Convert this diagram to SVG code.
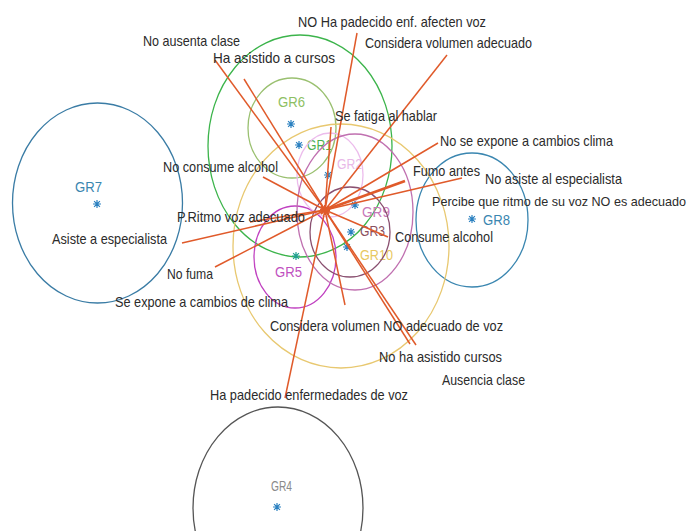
<svg xmlns="http://www.w3.org/2000/svg" xmlns:xlink="http://www.w3.org/1999/xlink" width="691" height="531" viewBox="0 0 691 531">
<style>
.lbl{font-family:"Liberation Sans",Arial,sans-serif;font-size:14.5px;fill:#2b2b2b;}
.gl{font-family:"Liberation Sans",Arial,sans-serif;font-size:14.5px;}
.ell{fill:none;stroke-width:1.3;}
.ln{stroke:#e05a2a;stroke-width:1.5;fill:none;}
.st{stroke:#2a80c0;stroke-width:1.2;fill:none;}
</style>
<defs>
<g id="star"><path d="M-4,0H4M0,-4V4M-2.9,-2.9L2.9,2.9M-2.9,2.9L2.9,-2.9"/></g>
</defs>
<rect width="691" height="531" fill="#ffffff"/>

<g id="GR7"><ellipse class="ell" cx="97.5" cy="203" rx="85" ry="100" stroke="#3a7ca5"/><use xlink:href="#star" class="st" x="97" y="204"/><text class="gl" x="75" y="192" fill="#3a86b0" textLength="27" lengthAdjust="spacingAndGlyphs">GR7</text></g>
<g id="GR8"><ellipse class="ell" cx="472" cy="220" rx="56" ry="67" stroke="#3a86b0"/><use xlink:href="#star" class="st" x="472" y="219"/><text class="gl" x="483" y="225" fill="#3a86b0" textLength="27" lengthAdjust="spacingAndGlyphs">GR8</text></g>
<g id="GR4"><ellipse class="ell" cx="278" cy="508" rx="85" ry="101" stroke="#555555"/><use xlink:href="#star" class="st" x="277" y="507"/><text class="gl" x="271" y="491" fill="#8a8a8a" textLength="21" lengthAdjust="spacingAndGlyphs">GR4</text></g>
<g id="GR1"><ellipse class="ell" cx="300" cy="146" rx="92" ry="111" stroke="#3cb44b"/><use xlink:href="#star" class="st" x="299" y="145"/><text class="gl" x="307" y="150" fill="#4cb050" textLength="25" lengthAdjust="spacingAndGlyphs">GR1</text></g>
<g id="GR6"><ellipse class="ell" cx="292" cy="128" rx="44" ry="50" stroke="#9ac070"/><use xlink:href="#star" class="st" x="291" y="124"/><text class="gl" x="278" y="107" fill="#8dc063" textLength="27" lengthAdjust="spacingAndGlyphs">GR6</text></g>
<g id="GR10"><ellipse class="ell" cx="341" cy="246" rx="108" ry="122" stroke="#e8c870"/><use xlink:href="#star" class="st" x="347" y="247"/><text class="gl" x="360" y="260" fill="#e8c860" textLength="33" lengthAdjust="spacingAndGlyphs">GR10</text></g>
<g id="GR5"><ellipse class="ell" cx="295" cy="257" rx="41" ry="51" stroke="#c040c0"/><use xlink:href="#star" class="st" x="296" y="256" style="stroke:#20a090"/><text class="gl" x="275" y="277" fill="#c050c0" textLength="27" lengthAdjust="spacingAndGlyphs">GR5</text></g>
<g id="GR2"><ellipse class="ell" cx="330" cy="175" rx="33" ry="42" stroke="#ecbcec"/><use xlink:href="#star" class="st" x="328" y="175"/><text class="gl" x="337" y="169" fill="#e8b8e8" textLength="25" lengthAdjust="spacingAndGlyphs">GR2</text></g>
<g id="GR9"><ellipse class="ell" cx="355" cy="212" rx="58" ry="78" stroke="#c070b0"/><use xlink:href="#star" class="st" x="355" y="205"/><text class="gl" x="362" y="217" fill="#c878b8" textLength="28" lengthAdjust="spacingAndGlyphs">GR9</text></g>
<g id="GR3"><ellipse class="ell" cx="350" cy="232" rx="40" ry="45" stroke="#8a5070"/><use xlink:href="#star" class="st" x="351" y="232"/><text class="gl" x="360" y="236" fill="#8a5060" textLength="25" lengthAdjust="spacingAndGlyphs">GR3</text></g>

<g id="connectors">
<path class="ln" d="M325,210L215,60"/>
<path class="ln" d="M325,210L244,79"/>
<path class="ln" d="M325,210L357,33"/>
<path class="ln" d="M325,210L447,55"/>
<path class="ln" d="M325,210L331,127"/>
<path class="ln" d="M325,210L438,143"/>
<path class="ln" d="M325,210L405,181" style="stroke-width:2.6"/>
<path class="ln" d="M325,210L462,178"/>
<path class="ln" d="M325,210L388,237"/>
<path class="ln" d="M325,210L263,177"/>
<path class="ln" d="M325,210L250,222"/>
<path class="ln" d="M325,210L182,243"/>
<path class="ln" d="M325,210L215,267"/>
<path class="ln" d="M325,210L285,398"/>
<path class="ln" d="M325,210L345,305"/>
<path class="ln" d="M325,210L410,344"/>
<path class="ln" d="M325,210L416,345"/>
<path d="M320,210H330M325,205V215M321,206L329,214M321,214L329,206" stroke="#e05a2a" stroke-width="2"/>
</g>

<g id="labels">
<text class="lbl" x="298" y="27" textLength="188" lengthAdjust="spacingAndGlyphs">NO Ha padecido enf. afecten voz</text>
<text class="lbl" x="143" y="46" textLength="97" lengthAdjust="spacingAndGlyphs">No ausenta clase</text>
<text class="lbl" x="365" y="48" textLength="167" lengthAdjust="spacingAndGlyphs">Considera volumen adecuado</text>
<text class="lbl" x="213" y="63" textLength="122" lengthAdjust="spacingAndGlyphs">Ha asistido a cursos</text>
<text class="lbl" x="335" y="121" textLength="102" lengthAdjust="spacingAndGlyphs">Se fatiga al hablar</text>
<text class="lbl" x="440" y="146" textLength="173" lengthAdjust="spacingAndGlyphs">No se expone a cambios clima</text>
<text class="lbl" x="413" y="176" textLength="67" lengthAdjust="spacingAndGlyphs">Fumo antes</text>
<text class="lbl" x="485" y="184" textLength="137" lengthAdjust="spacingAndGlyphs">No asiste al especialista</text>
<text class="lbl" x="432" y="206" style="font-size:12.8px" textLength="254" lengthAdjust="spacingAndGlyphs">Percibe que ritmo de su voz NO es adecuado</text>
<text class="lbl" x="395" y="242" textLength="98" lengthAdjust="spacingAndGlyphs">Consume alcohol</text>
<text class="lbl" x="163" y="172" textLength="115" lengthAdjust="spacingAndGlyphs">No consume alcohol</text>
<text class="lbl" x="177" y="222" textLength="128" lengthAdjust="spacingAndGlyphs">P.Ritmo voz adecuado</text>
<text class="lbl" x="52" y="244" textLength="115" lengthAdjust="spacingAndGlyphs">Asiste a especialista</text>
<text class="lbl" x="167" y="279" textLength="46" lengthAdjust="spacingAndGlyphs">No fuma</text>
<text class="lbl" x="115" y="307" textLength="173" lengthAdjust="spacingAndGlyphs">Se expone a cambios de clima</text>
<text class="lbl" x="270" y="331" textLength="233" lengthAdjust="spacingAndGlyphs">Considera volumen NO adecuado de voz</text>
<text class="lbl" x="379" y="362" textLength="123" lengthAdjust="spacingAndGlyphs">No ha asistido cursos</text>
<text class="lbl" x="442" y="385" textLength="83" lengthAdjust="spacingAndGlyphs">Ausencia clase</text>
<text class="lbl" x="210" y="400" textLength="198" lengthAdjust="spacingAndGlyphs">Ha padecido enfermedades de voz</text>
</g>
</svg>
